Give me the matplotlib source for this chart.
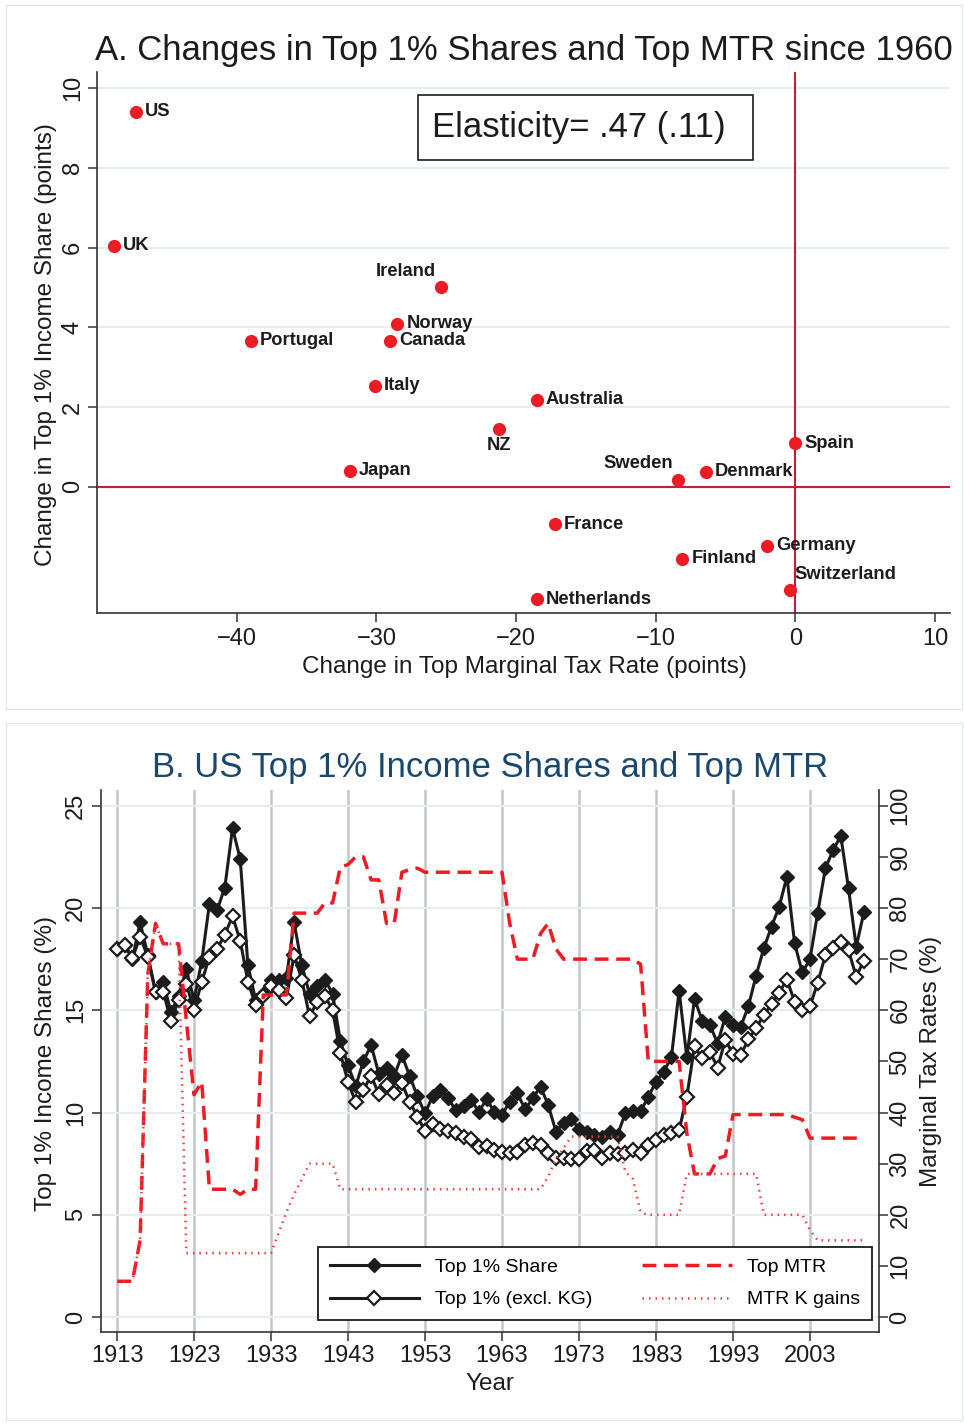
import numpy as np
import matplotlib
matplotlib.use('Agg')
import matplotlib.pyplot as plt
from matplotlib.patches import Rectangle

plt.rcParams['font.family'] = ['Liberation Sans', 'DejaVu Sans']
plt.rcParams['axes.unicode_minus'] = True

# ---- Panel A data: change since 1960 (points)
countries = ['US', 'UK', 'Ireland', 'Norway', 'Canada', 'Portugal', 'Italy',
             'Australia', 'NZ', 'Japan', 'Sweden', 'Denmark', 'Spain', 'France',
             'Germany', 'Finland', 'Switzerland', 'Netherlands']
d_mtr = [-47.2, -48.8, -25.4, -28.5, -29.0, -39.0, -30.1,
         -18.5, -21.2, -31.9, -8.4, -6.4, 0.0, -17.2,
         -2.0, -8.1, -0.4, -18.5]
d_share = [9.4, 6.04, 5.01, 4.09, 3.66, 3.66, 2.53,
           2.18, 1.45, 0.40, 0.18, 0.38, 1.10, -0.93,
           -1.48, -1.80, -2.58, -2.81]

# label placement (offset in points, alignment) - most go to the right
label_pos = {
    'Ireland': (-3.5, 11.5, 'right'),
    'NZ': (0, -11.5, 'center'),
    'Sweden': (-3.5, 11.5, 'right'),
    'Switzerland': (3.5, 11, 'left'),
}

# ---- Panel B data: US 1913-2010
years = np.arange(1913, 2011)
top1_share = [
    18.0, 18.2, 17.5, 19.3, 17.7, 15.9, 16.4, 14.9, 15.7, 17.0,    # 1913-1922
    15.5, 17.4, 20.2, 19.9, 21.0, 23.9, 22.4, 17.2, 15.5, 15.8,    # 1923-1932
    16.5, 16.5, 16.6, 19.3, 17.2, 15.8, 16.2, 16.5, 15.8, 13.5,    # 1933-1942
    12.3, 11.3, 12.5, 13.3, 11.9, 12.2, 11.8, 12.8, 11.8, 10.8,    # 1943-1952
    9.96, 10.8, 11.1, 10.7, 10.1, 10.3, 10.6, 10.05, 10.65, 10.04, # 1953-1962
    9.88, 10.53, 10.94, 10.16, 10.7, 11.27, 10.37, 9.07, 9.5, 9.7, # 1963-1972
    9.2, 9.07, 8.9, 8.82, 9.07, 8.9, 9.96, 10.06, 10.06, 10.77,    # 1973-1982
    11.5, 12.0, 12.7, 15.96, 12.7, 15.55, 14.5, 14.28, 13.38, 14.68,  # 1983-1992
    14.28, 14.2, 15.2, 16.7, 18.03, 19.09, 20.07, 21.53, 18.27, 16.85,  # 1993-2002
    17.5, 19.77, 21.94, 22.84, 23.52, 20.96, 18.1, 19.79,          # 2003-2010
]
top1_exkg = [
    17.98, 18.19, 17.54, 18.6, 17.6, 15.9, 15.9, 14.5, 15.5, 16.3,
    15.0, 16.4, 17.6, 18.0, 18.7, 19.6, 18.4, 16.4, 15.25, 15.7,
    16.2, 16.0, 15.6, 17.7, 16.5, 14.7, 15.4, 15.7, 15.0, 12.9,
    11.5, 10.5, 11.1, 11.8, 10.9, 11.35, 10.97, 11.43, 10.53, 9.8,
    9.1, 9.44, 9.19, 9.1, 8.98, 8.79, 8.7, 8.33, 8.35, 8.17,
    8.07, 8.0, 8.07, 8.41, 8.5, 8.41, 8.0, 7.77, 7.8, 7.71,
    7.71, 8.1, 8.17, 7.77, 8.0, 7.95, 8.0, 8.17, 8.0, 8.41,
    8.65, 8.9, 8.98, 9.14, 10.77, 13.23, 12.65, 12.97, 12.2, 13.55,
    12.86, 12.81, 13.58, 14.12, 14.77, 15.3, 15.86, 16.5, 15.42, 15.01,
    15.2, 16.35, 17.7, 18.03, 18.32, 17.93, 16.65, 17.43,
]
top_mtr = [
    7, 7, 7, 15, 67, 77, 73, 73, 73, 58,
    43.5, 46, 25, 25, 25, 25, 24, 25, 25, 63,
    63, 63, 63, 79, 79, 79, 79, 81, 81, 88,
    88.5, 90, 90, 85.5, 85.5, 77, 77, 87, 87.5, 87.8,
    87, 87, 87, 87, 87, 87, 87, 87, 87, 87,
    87, 77, 70, 70, 70, 75, 77, 72, 70, 70,
    70, 70, 70, 70, 70, 70, 70, 70, 69, 50,
    50, 50, 50, 50, 36, 28, 28, 28, 31, 31.5,
    39.6, 39.6, 39.6, 39.6, 39.6, 39.6, 39.6, 39.6, 39.1, 38.6,
    35, 35, 35, 35, 35, 35, 35, 35,
]
mtr_kgains = [
    7, 7, 7, 15, 67, 77, 73, 73, 73, 12.5,
    12.5, 12.5, 12.5, 12.5, 12.5, 12.5, 12.5, 12.5, 12.5, 12.5,
    12.5, 16.5, 20.5, 24, 27, 30, 30, 30, 30, 25,
    25, 25, 25, 25, 25, 25, 25, 25, 25, 25,
    25, 25, 25, 25, 25, 25, 25, 25, 25, 25,
    25, 25, 25, 25, 25, 25, 27.5, 31, 33, 35.3,
    35.3, 35.3, 35.3, 35.3, 35.3, 35.3, 28.5, 27, 20.5, 20,
    20, 20, 20, 20, 28, 28, 28, 28, 28, 28,
    28, 28, 28, 28, 20, 20, 20, 20, 20, 20,
    17, 15, 15, 15, 15, 15, 15, 15,
]

W, H = 964, 1424
fig = plt.figure(figsize=(W / 100, H / 100), dpi=100)

RED = '#ec1c24'
REFRED = '#c42035'
INK = '#1c1c1c'
SPINE = '#333333'
GRID = '#e6edf1'
NAVY = '#1a476f'

# light frames around each panel (Stata graph region)
for top, bot in [(5, 709), (723, 1420)]:
    fig.patches.append(Rectangle((6 / W, 1 - bot / H), (962 - 6) / W, (bot - top) / H,
                                 transform=fig.transFigure, fill=False,
                                 ec='#e1e6ea', lw=1))

# ================= Panel A =================
axA = fig.add_axes([97 / W, 1 - 613 / H, (950 - 97) / W, (613 - 72) / H])
axA.set_xlim(-50, 11.07)
axA.set_ylim(-3.16, 10.4)
axA.set_xticks([-40, -30, -20, -10, 0, 10])
axA.set_yticks([0, 2, 4, 6, 8, 10])
axA.yaxis.grid(True, color=GRID, lw=1.6)
axA.set_axisbelow(True)
axA.axhline(0, color=REFRED, lw=1.5, zorder=2)
axA.axvline(0, color=REFRED, lw=1.5, zorder=2)
axA.plot(d_mtr, d_share, 'o', ms=9.5, color=RED, mec='none', zorder=3)

for name, xv, yv in zip(countries, d_mtr, d_share):
    dx, dy, ha = label_pos.get(name, (6.5, 0, 'left'))
    axA.annotate(name, (xv, yv), xytext=(dx, dy), textcoords='offset points',
                 ha=ha, va='center', fontsize=13.2, fontweight='bold', color=INK,
                 zorder=4)

# elasticity box
axA.add_patch(Rectangle((0.3763, 0.8373), 0.3927, 0.1202, transform=axA.transAxes,
                        fill=False, ec=INK, lw=1.2, zorder=5))
axA.text(0.5645, 0.897, 'Elasticity= .47 (.11)', transform=axA.transAxes,
         ha='center', va='center', fontsize=25, color=INK, zorder=5)

for s in ['top', 'right']:
    axA.spines[s].set_visible(False)
for s in ['left', 'bottom']:
    axA.spines[s].set_color(SPINE)
    axA.spines[s].set_linewidth(1.2)
axA.tick_params(direction='out', length=6.5, width=1.1, color=SPINE,
                labelsize=17, labelcolor=INK)
axA.tick_params(axis='x', pad=4.5)
axA.tick_params(axis='y', pad=3, labelrotation=90)
for lbl in axA.get_yticklabels():
    lbl.set_va('center')

axA.set_xlabel('Change in Top Marginal Tax Rate (points)', fontsize=17.5, color=INK,
               va='baseline')
axA.xaxis.set_label_coords(0.5006, -0.111)
axA.set_ylabel('Change in Top 1% Income Share (points)', fontsize=17.5, color=INK,
               va='center')
axA.yaxis.set_label_coords(-0.0598, 0.497)

fig.text(523.5 / W, 1 - 60 / H, 'A. Changes in Top 1% Shares and Top MTR since 1960',
         ha='center', va='baseline', fontsize=25, color=INK)

# ================= Panel B =================
axB = fig.add_axes([101 / W, 1 - 1332 / H, (879 - 101) / W, (1332 - 790) / H])
axB.set_xlim(1910.92, 2011.96)
axB.set_ylim(-0.73, 25.77)
axB.set_xticks(np.arange(1913, 2004, 10))
axB.set_yticks([0, 5, 10, 15, 20, 25])
axB.xaxis.grid(True, color='#c2c6cb', lw=1.8)
axB.yaxis.grid(True, color=GRID, lw=1.6)
axB.set_axisbelow(True)

l1, = axB.plot(years, top1_share, '-', color=INK, lw=2.2, marker='D', ms=7.5,
               mfc=INK, mec=INK, label='Top 1% Share', zorder=3)
l2, = axB.plot(years, top1_exkg, '-', color=INK, lw=2.2, marker='D', ms=7,
               mfc='white', mec=INK, mew=1.6, label='Top 1% (excl. KG)', zorder=4)

axR = axB.twinx()
axR.set_ylim(-0.73 * 4, 25.77 * 4)
axR.set_yticks(np.arange(0, 101, 10))
l3, = axR.plot(years, top_mtr, color=RED, lw=2.5, dashes=(4, 2.2), label='Top MTR')
l4, = axR.plot(years, mtr_kgains, color='#f03a3a', lw=1.8, dashes=(0.6, 2.0),
               label='MTR K gains')

for ax in (axB, axR):
    ax.spines['top'].set_visible(False)
    for s in ['left', 'bottom', 'right']:
        ax.spines[s].set_color(SPINE)
        ax.spines[s].set_linewidth(1.2)
axB.spines['right'].set_visible(False)
axR.spines['left'].set_visible(False)
axR.spines['bottom'].set_visible(False)

axB.tick_params(direction='out', length=6.5, width=1.1, color=SPINE,
                labelsize=17, labelcolor=INK)
axB.tick_params(axis='x', pad=3)
axB.tick_params(axis='y', pad=3.5, labelrotation=90)
for lbl in axB.get_yticklabels():
    lbl.set_va('center')
axR.tick_params(direction='out', length=6.5, width=1.1, color=SPINE,
                labelsize=17, labelcolor=INK, pad=1, labelrotation=90)
for lbl in axR.get_yticklabels():
    lbl.set_va('center')

axB.set_xlabel('Year', fontsize=17.5, color=INK, va='baseline')
axB.xaxis.set_label_coords(0.5, -0.107)
axB.set_ylabel('Top 1% Income Shares (%)', fontsize=17.5, color=INK, va='center')
axB.yaxis.set_label_coords(-0.0707, 0.496)
axR.set_ylabel('Marginal Tax Rates (%)', fontsize=17.5, color=INK, va='center',
               rotation=90)
axR.yaxis.set_label_coords(1.0668, 0.5)

leg = axR.legend(handles=[l1, l2, l3, l4], ncol=2, loc='lower left', mode='expand',
                 bbox_to_anchor=(0.279, 0.022, 0.712, 0.14), borderaxespad=0,
                 fontsize=14, handlelength=4.6, handletextpad=0.8,
                 labelspacing=0.75, fancybox=False, framealpha=1,
                 edgecolor=INK, borderpad=0.6)
leg.get_frame().set_linewidth(1.3)

fig.text(490.5 / W, 1 - 777 / H, 'B. US Top 1% Income Shares and Top MTR',
         ha='center', va='baseline', fontsize=25, color=NAVY)

fig.savefig('out.png', dpi=100)
